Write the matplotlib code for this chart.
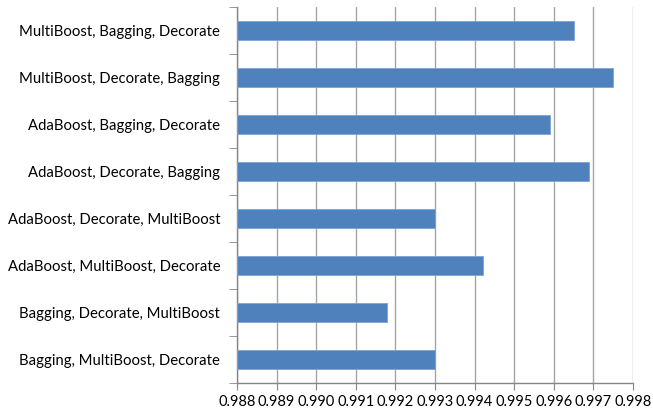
import matplotlib
matplotlib.use("Agg")
import matplotlib.pyplot as plt
import numpy as np

categories = [
    "MultiBoost, Bagging, Decorate",
    "MultiBoost, Decorate, Bagging",
    "AdaBoost, Bagging, Decorate",
    "AdaBoost, Decorate, Bagging",
    "AdaBoost, Decorate, MultiBoost",
    "AdaBoost, MultiBoost, Decorate",
    "Bagging, Decorate, MultiBoost",
    "Bagging, MultiBoost, Decorate",
]
values = [0.9965, 0.9975, 0.9959, 0.9969, 0.9930, 0.9942, 0.9918, 0.9930]
x_ticks = [0.988, 0.989, 0.990, 0.991, 0.992, 0.993, 0.994, 0.995, 0.996, 0.997, 0.998]
x_min, x_max = 0.988, 0.998

plt.rcParams['font.family'] = ['Lato', 'DejaVu Sans']

fig = plt.figure(figsize=(6.53, 4.13), dpi=100)
ax = fig.add_axes([237 / 653, 1 - 383 / 413, (633 - 237) / 653, (383 - 7) / 413])

n = len(categories)
ypos = np.arange(n)[::-1]
ax.barh(ypos, [v - x_min for v in values], left=x_min, height=0.4,
        color="#4F81BD", edgecolor="#7FA3D3", linewidth=0.6, zorder=3)

ax.set_xlim(x_min, x_max)
ax.set_ylim(-0.5, n - 0.5)
ax.set_xticks(x_ticks)
ax.set_xticklabels([f"{t:.3f}" for t in x_ticks], fontsize=10.5)
ax.set_yticks(ypos)
ax.set_yticklabels(categories, fontsize=10.7)
ax.tick_params(axis="y", length=0, pad=12)
ax.tick_params(axis="x", length=5, color="#868686", pad=4)

# category separators on the value axis
ax.set_yticks(np.arange(-0.5, n, 1.0), minor=True)
ax.tick_params(axis="y", which="minor", length=6, color="#868686")

ax.grid(axis="x", color="#A6A6A6", linewidth=1.0, zorder=0)
for side in ("top", "right"):
    ax.spines[side].set_visible(False)
ax.spines["left"].set_color("#868686")
ax.spines["bottom"].set_color("#868686")
ax.spines["left"].set_linewidth(1.0)
ax.spines["bottom"].set_linewidth(1.0)

fig.savefig("out.png", dpi=100)
